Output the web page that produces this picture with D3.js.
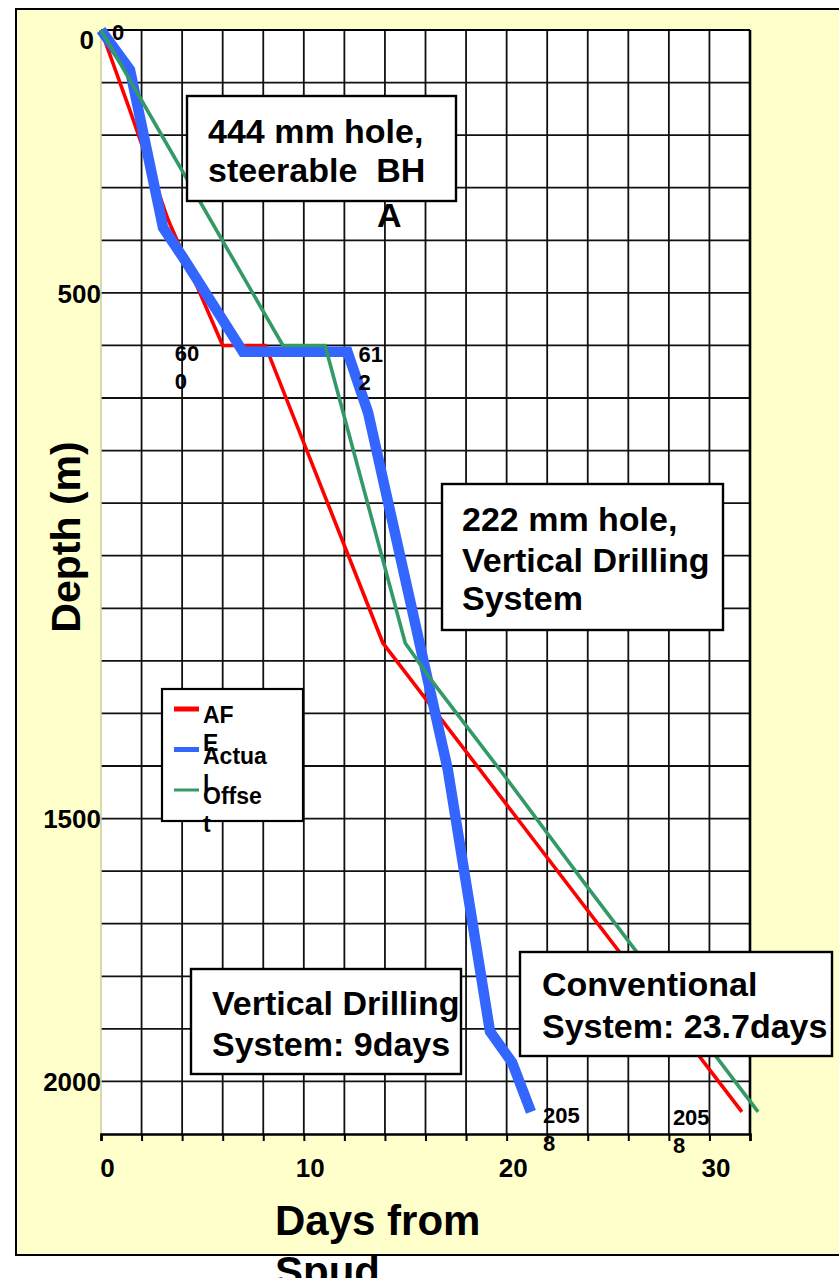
<!DOCTYPE html>
<html><head><meta charset="utf-8">
<script src="https://cdn.jsdelivr.net/npm/d3@7"></script>
<style>
body{margin:0;background:#fff}
svg{display:block}
text{font-family:"Liberation Sans",Arial,Helvetica,sans-serif;font-weight:bold;fill:#000}
</style>
</head><body>
<svg id="c" width="839" height="1278"></svg>
<script>
// ---- data ----
const afeDays     = [0, 1.4, 3.3, 6.0, 8.1, 13.9, 31.6];
const afeDepth    = [0, 150, 360, 600, 600, 1166, 2058];
const actualDays  = [0, 1.43, 3.06, 4.0, 7.0, 12.15, 13.17, 17.1, 19.18, 20.27, 21.2];
const actualDepth = [0, 76, 376, 430, 612, 612, 728, 1407, 1905, 1964, 2058];
const offsetDays  = [0, 8.97, 11.05, 15.0, 16.37, 19.92, 23.96, 32.4];
const offsetDepth = [0, 600, 600, 1166, 1241, 1420, 1629, 2058];
const xTickLabels = [0, 10, 20, 30];
const yTickLabels = [0, 500, 1500, 2000];
const legendLines = [["AF","E"],["Actua","l"],["Offse","t"]];
const seriesColors = ["#FF0000","#3366FF","#339966"];

// ---- setup ----
const svg = d3.select("#c");
const x = d3.scaleLinear().domain([0, 32]).range([101, 750]);
const y = d3.scaleLinear().domain([0, 2100]).range([30, 1134]);

svg.append("rect").attr("x",16).attr("y",9).attr("width",840).attr("height",1246)
  .attr("fill","#FFFFCC").attr("stroke","#000").attr("stroke-width",2);

svg.append("rect").attr("x",x(0)).attr("y",y(0)).attr("width",x(32)-x(0)).attr("height",y(2100)-y(0))
  .attr("fill","#fff");

// grid
const g = svg.append("g");
g.selectAll(".vg").data(d3.range(2, 32, 2)).join("line")
  .attr("x1",d=>x(d)).attr("x2",d=>x(d)).attr("y1",y(0)).attr("y2",y(2100))
  .attr("stroke","#111").attr("stroke-width",1.8);
g.selectAll(".hg").data(d3.range(100, 2100, 100)).join("line")
  .attr("x1",x(0)).attr("x2",x(32)).attr("y1",d=>y(d)).attr("y2",d=>y(d))
  .attr("stroke","#111").attr("stroke-width",1.8);
// borders
g.append("line").attr("x1",x(0)).attr("x2",x(0)).attr("y1",y(0)).attr("y2",y(2100))
  .attr("stroke","#cccc99").attr("stroke-width",1.5);
g.append("line").attr("x1",x(0)).attr("x2",x(32)).attr("y1",y(0)).attr("y2",y(0))
  .attr("stroke","#000").attr("stroke-width",2.2);
g.append("line").attr("x1",x(32)).attr("x2",x(32)).attr("y1",y(0)).attr("y2",y(2100))
  .attr("stroke","#000").attr("stroke-width",2.6);

// x axis
const xAxis = svg.append("g").attr("transform",`translate(0,${y(2100)})`)
  .call(d3.axisBottom(x).tickValues(d3.range(0, 33, 2)).tickSize(7).tickFormat(""));
xAxis.select(".domain").attr("stroke","#000").attr("stroke-width",2.6);
xAxis.selectAll(".tick line").attr("stroke","#000").attr("stroke-width",2);

const xLab = svg.append("g").attr("transform",`translate(6,${y(2100)})`)
  .call(d3.axisBottom(x).tickValues(xTickLabels).tickSize(0).tickPadding(25).tickFormat(d3.format("d")));
xLab.select(".domain").remove();
xLab.selectAll("text").attr("font-size",26).attr("font-family",null);

// y axis labels
const yLab = svg.append("g").attr("transform",`translate(${x(0)},0)`)
  .call(d3.axisLeft(y).tickValues(yTickLabels).tickSize(0).tickPadding(0).tickFormat(d3.format("d")));
yLab.select(".domain").remove();
yLab.selectAll("text").attr("font-size",26).attr("font-family",null)
  .attr("dy", d => d === 0 ? "0.72em" : "0.36em")
  .attr("dx", d => d === 0 ? -7 : 0);

// series
const line = d3.line().x(d=>x(d[0])).y(d=>y(d[1]));
const afe = afeDays.map((d,i)=>[d, afeDepth[i]]);
const actual = actualDays.map((d,i)=>[d, actualDepth[i]]);
const offset = offsetDays.map((d,i)=>[d, offsetDepth[i]]);
svg.append("path").attr("d",line(afe)).attr("fill","none").attr("stroke",seriesColors[0])
  .attr("stroke-width",3.6).attr("stroke-linejoin","miter");
svg.append("path").attr("d",line(actual)).attr("fill","none").attr("stroke",seriesColors[1])
  .attr("stroke-width",10.5).attr("stroke-linejoin","miter");
svg.append("path").attr("d",line(offset)).attr("fill","none").attr("stroke",seriesColors[2])
  .attr("stroke-width",3.6).attr("stroke-linejoin","miter");

// data labels
function dataLabel(px, py, lines, dx, dy){
  const t = svg.append("text").attr("font-size",22);
  lines.forEach((s,i)=>t.append("tspan").attr("x",px+dx).attr("y",py+dy+i*28).text(s));
}
dataLabel(x(afeDays[0]), y(afeDepth[0]), ["0"], 11, 10);
dataLabel(x(afeDays[3]), y(afeDepth[3]), ["60","0"], -48, 16);
dataLabel(x(actualDays[5]), y(actualDepth[5]), ["61","2"], 11, 10);
dataLabel(x(actualDays[10]), y(actualDepth[10]), ["205","8"], 12, 11);
dataLabel(x(afeDays[6]), y(afeDepth[6]), ["205","8"], -69, 13);

// annotation boxes
function box(bx, by, bw, bh, lines){
  svg.append("rect").attr("x",bx).attr("y",by).attr("width",bw).attr("height",bh)
    .attr("fill","#fff").attr("stroke","#000").attr("stroke-width",2.4);
  lines.forEach(l=>{
    svg.append("text").attr("x",l[0]).attr("y",l[1]).attr("font-size",34)
      .style("white-space","pre").text(l[2]);
  });
}
box(187, 96, 269, 105, [[208,143,"444 mm hole,"],[208,182,"steerable  BH"],[377,227,"A"]]);
box(442, 484, 281, 146, [[462,531,"222 mm hole,"],[462,572,"Vertical Drilling"],[462,610,"System"]]);
box(191, 969, 270, 105, [[212,1015,"Vertical Drilling"],[212,1056,"System: 9days"]]);
box(520, 952, 312, 104, [[542,996,"Conventional"],[542,1038,"System: 23.7days"]]);

// legend
svg.append("rect").attr("x",162).attr("y",689).attr("width",141).attr("height",132)
  .attr("fill","#fff").attr("stroke","#000").attr("stroke-width",2.2);
const legW = [5,5,3];
legendLines.forEach((ls,i)=>{
  const ly = 709 + i*40.5;
  svg.append("line").attr("x1",174).attr("x2",199).attr("y1",ly).attr("y2",ly)
    .attr("stroke",seriesColors[i]).attr("stroke-width",legW[i]);
  ls.forEach((s,j)=>{
    svg.append("text").attr("x",203).attr("y",ly+14+j*28).attr("font-size",23).text(s);
  });
});

// axis titles
svg.append("text").attr("transform","translate(80,537) rotate(-90)").attr("text-anchor","middle")
  .attr("font-size",41).text("Depth (m)");
svg.append("text").attr("x",275).attr("y",1235).attr("font-size",42).text("Days from");
svg.append("text").attr("x",275).attr("y",1286).attr("font-size",42).text("Spud");
</script>
</body></html>
